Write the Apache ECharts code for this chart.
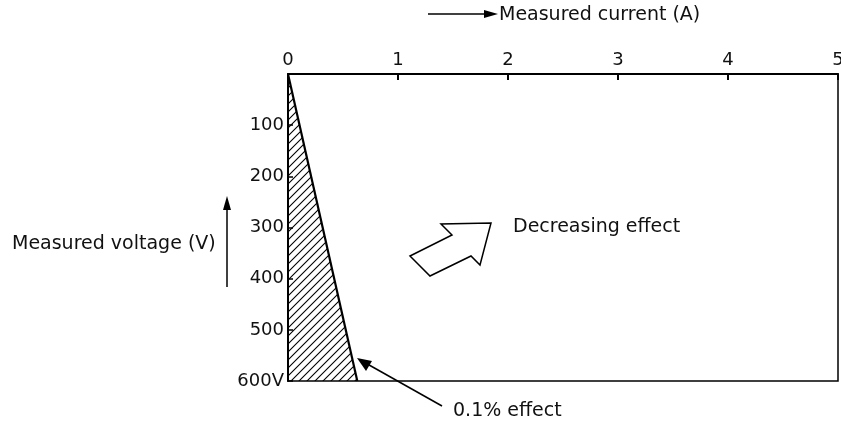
<!DOCTYPE html>
<html>
<head>
<meta charset="utf-8">
<script src="https://cdn.jsdelivr.net/npm/echarts@6/dist/echarts.min.js"></script>
<style>
  html, body { margin: 0; padding: 0; background: #fff; }
  #chart { width: 841px; height: 422px; }
</style>
</head>
<body>
<div id="chart"></div>
<script>
// current axis (top) and voltage axis (left, downwards)
const currentTicks = [0, 1, 2, 3, 4, 5]
const voltageTicks = [0, 100, 200, 300, 400, 500, 600]
// 0.1% effect region: corners as [current, voltage]
const effectRegion = [[0, 0], [0, 600], [0.63, 600]]

const FONT = 'DejaVu Sans'
const INK = '#111'
const TITLE = '19px ' + FONT

// diagonal hatch tile
function hatch() {
  const s = 8
  const c = document.createElement('canvas')
  c.width = s
  c.height = s
  const g = c.getContext('2d')
  g.strokeStyle = '#000'
  g.lineWidth = 1.1
  g.beginPath()
  g.moveTo(0, s); g.lineTo(s, 0)
  g.moveTo(-1, 1); g.lineTo(1, -1)
  g.moveTo(s - 1, s + 1); g.lineTo(s + 1, s - 1)
  g.stroke()
  return c
}

const chart = echarts.init(document.getElementById('chart'))

chart.setOption({
  animation: false,
  grid: {
    left: 288, top: 74, right: 3, bottom: 41,
    outerBoundsMode: 'none', containLabel: false,
    show: true, borderColor: '#000', borderWidth: 1.5
  },
  xAxis: {
    type: 'value', position: 'top',
    min: currentTicks[0], max: currentTicks[currentTicks.length - 1], interval: 1,
    axisLine: { show: true, lineStyle: { color: '#000', width: 2 } },
    axisTick: { show: true, inside: true, length: 6, lineStyle: { color: '#000', width: 2 } },
    axisLabel: { color: INK, fontFamily: FONT, fontSize: 18, margin: 5 },
    splitLine: { show: false }
  },
  yAxis: {
    type: 'value', inverse: true,
    min: voltageTicks[0], max: voltageTicks[voltageTicks.length - 1], interval: 100,
    axisLine: { show: true, lineStyle: { color: '#000', width: 2 } },
    axisTick: { show: true, inside: true, length: 5, lineStyle: { color: '#000', width: 1.5 } },
    axisLabel: {
      color: INK, fontFamily: FONT, fontSize: 18, margin: 4, showMinLabel: false,
      formatter: v => v === 600 ? '600V' : String(v)
    },
    splitLine: { show: false }
  },
  series: [{
    type: 'custom',
    data: [0],
    renderItem: function (params, api) {
      const pts = effectRegion.map(p => api.coord(p))
      return {
        type: 'group',
        children: [{
          type: 'polygon',
          shape: { points: pts },
          style: { fill: { image: hatch(), repeat: 'repeat' }, stroke: null }
        }, {
          type: 'line',
          shape: { x1: pts[0][0], y1: pts[0][1], x2: pts[2][0], y2: pts[2][1] },
          style: { stroke: '#000', lineWidth: 2.2 }
        }]
      }
    }
  }],
  graphic: [
    // top axis title with arrow
    { type: 'line', shape: { x1: 428, y1: 14, x2: 490, y2: 14 }, style: { stroke: '#000', lineWidth: 1.5 } },
    { type: 'polygon', shape: { points: [[484, 10], [498, 14], [484, 18]] }, style: { fill: '#000' } },
    { type: 'text', x: 499, y: 15, style: { text: 'Measured current (A)', fill: INK, font: TITLE, textVerticalAlign: 'middle' } },
    // left axis title with arrow
    { type: 'text', x: 12, y: 244, style: { text: 'Measured voltage (V)', fill: INK, font: TITLE, textVerticalAlign: 'middle' } },
    { type: 'line', shape: { x1: 227, y1: 287, x2: 227, y2: 203 }, style: { stroke: '#000', lineWidth: 1.5 } },
    { type: 'polygon', shape: { points: [[223, 210], [227, 196], [231, 210]] }, style: { fill: '#000' } },
    // hollow arrow
    { type: 'polygon', shape: { points: [[410, 256], [452, 235], [441, 224], [491, 223], [480, 265], [471, 256], [430, 276]] },
      style: { fill: '#fff', stroke: '#000', lineWidth: 1.5 } },
    { type: 'text', x: 513, y: 227, style: { text: 'Decreasing effect', fill: INK, font: TITLE, textVerticalAlign: 'middle' } },
    // 0.1% effect pointer
    { type: 'line', shape: { x1: 442, y1: 406, x2: 362, y2: 361 }, style: { stroke: '#000', lineWidth: 1.5 } },
    { type: 'polygon', shape: { points: [[357, 358], [372, 361], [366, 371]] }, style: { fill: '#000' } },
    { type: 'text', x: 453, y: 411, style: { text: '0.1% effect', fill: INK, font: TITLE, textVerticalAlign: 'middle' } }
  ]
})
</script>
</body>
</html>
